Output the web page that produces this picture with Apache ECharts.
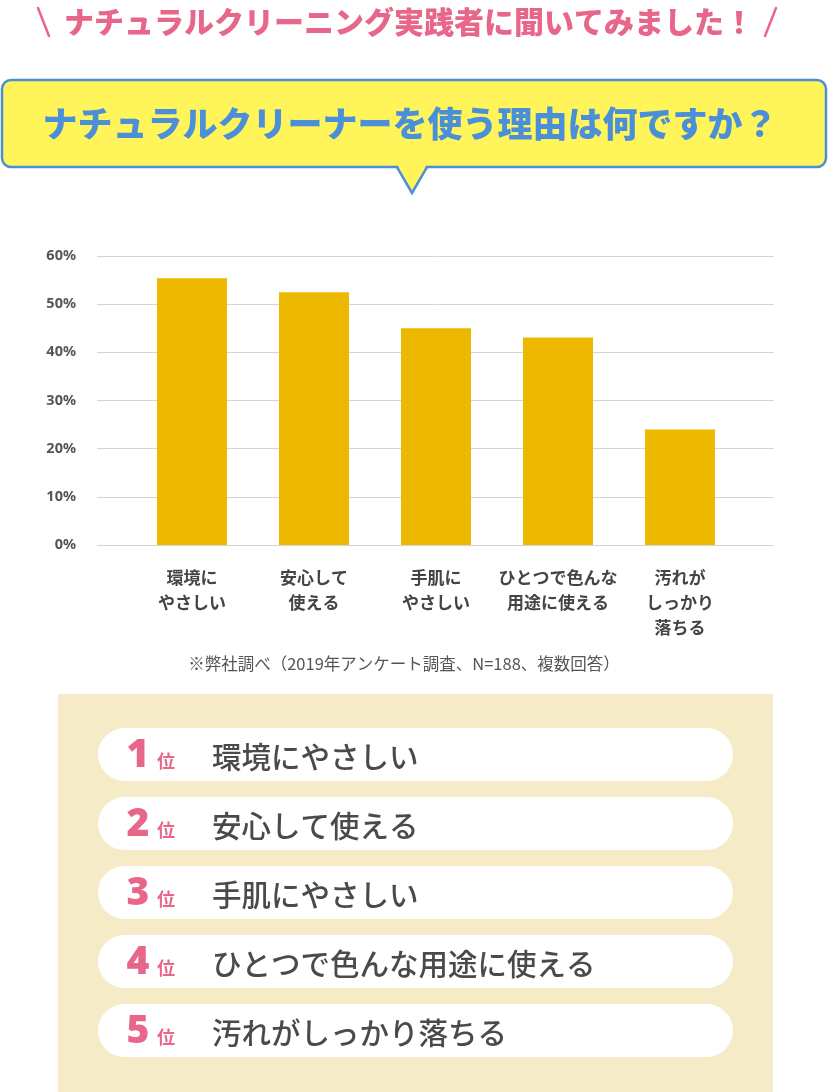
<!DOCTYPE html>
<html>
<head>
<meta charset="utf-8">
<script src="https://cdn.jsdelivr.net/npm/echarts@6/dist/echarts.min.js"></script>
<style>
html,body{margin:0;padding:0;background:#fff;}
#c{width:828px;height:1092px;}
</style>
</head>
<body>
<div id="c"></div>
<script>
const headline = 'ナチュラルクリーニング実践者に聞いてみました！';
const question = 'ナチュラルクリーナーを使う理由は何ですか？';
const categories = ['環境に\nやさしい', '安心して\n使える', '手肌に\nやさしい', 'ひとつで色んな\n用途に使える', '汚れが\nしっかり\n落ちる'];
const values = [55.4, 52.5, 45.0, 43.1, 24.0];
const yMin = 0, yMax = 60, yStep = 10;
const note = '※弊社調べ（2019年アンケート調査、N=188、複数回答）';
const rankNumbers = ['1', '2', '3', '4', '5'];
const rankSuffix = '位';
const rankLabels = ['環境にやさしい', '安心して使える', '手肌にやさしい', 'ひとつで色んな用途に使える', '汚れがしっかり落ちる'];

const JP = '"Noto Sans CJK JP", "Noto Sans", sans-serif';
const PINK = '#e8668a';
const BLUE = '#4a8fd8';
const YELLOW = '#fff45a';
const DARK = '#4a4a4a';

const chart = echarts.init(document.getElementById('c'), null, {renderer: 'canvas'});

const graphics = [];
// headline
graphics.push({type: 'text', z: 10, style: {x: 409, y: 22, text: headline, font: '900 30px ' + JP, fill: PINK, align: 'center', verticalAlign: 'middle'}});
graphics.push({type: 'line', z: 10, shape: {x1: 38, y1: 8, x2: 49, y2: 36}, style: {stroke: PINK, lineWidth: 2.5, lineCap: 'round'}});
graphics.push({type: 'line', z: 10, shape: {x1: 776, y1: 8, x2: 765, y2: 36}, style: {stroke: PINK, lineWidth: 2.5, lineCap: 'round'}});
// bubble
graphics.push({type: 'rect', z: 5, shape: {x: 2, y: 80, width: 824, height: 87, r: 9}, style: {fill: YELLOW, stroke: BLUE, lineWidth: 2.5}});
graphics.push({type: 'polygon', z: 6, shape: {points: [[397, 164], [412, 193], [427, 164]]}, style: {fill: YELLOW}});
graphics.push({type: 'polyline', z: 7, shape: {points: [[397, 167.2], [412, 193], [427, 167.2]]}, style: {stroke: BLUE, lineWidth: 2.5, fill: null, lineJoin: 'miter'}});
graphics.push({type: 'text', z: 8, style: {x: 410, y: 124, text: question, font: '900 35px ' + JP, fill: BLUE, align: 'center', verticalAlign: 'middle'}});
// note
graphics.push({type: 'text', z: 8, style: {x: 404, y: 664, text: note, font: '16.5px ' + JP, fill: '#555', align: 'center', verticalAlign: 'middle'}});
// ranking panel
graphics.push({type: 'rect', z: 1, shape: {x: 58, y: 694, width: 715, height: 398}, style: {fill: '#f5ebc7'}});
rankLabels.forEach(function (label, i) {
  const cy = 754.5 + 69 * i;
  graphics.push({type: 'rect', z: 2, shape: {x: 98, y: cy - 26.5, width: 635, height: 53, r: 26.5}, style: {fill: '#fff'}});
  graphics.push({type: 'text', z: 3, style: {x: 138, y: cy + 1, text: rankNumbers[i], font: '900 39px "Noto Sans", sans-serif', fill: PINK, align: 'center', verticalAlign: 'middle'}});
  graphics.push({type: 'text', z: 3, style: {x: 166, y: cy + 7, text: rankSuffix, font: 'bold 18px ' + JP, fill: PINK, align: 'center', verticalAlign: 'middle'}});
  graphics.push({type: 'text', z: 3, style: {x: 212, y: cy + 2, text: label, font: '500 29.5px ' + JP, fill: DARK, align: 'left', verticalAlign: 'middle'}});
});

const option = {
  animation: false,
  backgroundColor: '#fff',
  grid: [
    {left: 97, right: 54, top: 256, bottom: 547, containLabel: false},
    {left: 131, width: 610, top: 256, bottom: 547, containLabel: false}
  ],
  xAxis: [
    {gridIndex: 0, type: 'value', min: 0, max: 1, show: false},
    {gridIndex: 1, type: 'category', data: categories,
     axisLine: {show: false}, axisTick: {show: false},
     axisLabel: {interval: 0, margin: 20, fontFamily: JP, fontWeight: 'bold', fontSize: 17, lineHeight: 25, color: '#444'}}
  ],
  yAxis: [
    {gridIndex: 0, type: 'value', min: yMin, max: yMax, interval: yStep,
     axisLine: {show: false}, axisTick: {show: false},
     axisLabel: {formatter: '{value}%', margin: 21, fontFamily: '"Noto Sans", sans-serif', fontWeight: 'bold', fontSize: 14.5, color: '#555'},
     splitLine: {lineStyle: {color: '#d4d4d4', width: 1}}},
    {gridIndex: 1, type: 'value', min: yMin, max: yMax, interval: yStep, show: false, splitLine: {show: false}}
  ],
  series: [{
    type: 'bar', xAxisIndex: 1, yAxisIndex: 1, data: values, barWidth: 70,
    itemStyle: {color: '#ecb800'}
  }],
  graphic: graphics
};
chart.setOption(option);
</script>
</body>
</html>
